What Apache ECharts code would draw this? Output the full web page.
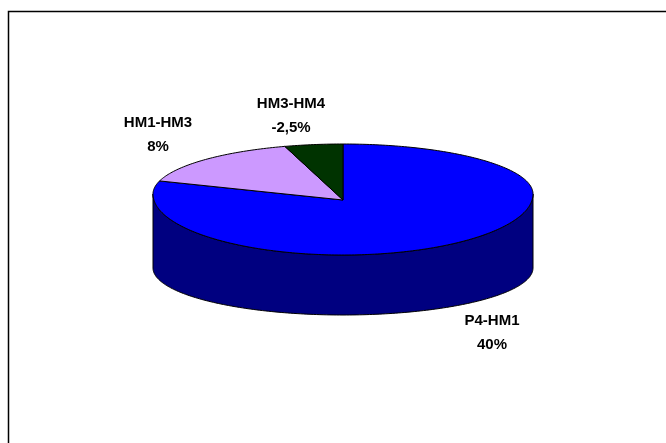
<!DOCTYPE html>
<html>
<head>
<meta charset="utf-8">
<script src="https://cdn.jsdelivr.net/npm/echarts@6/dist/echarts.min.js"></script>
<style>
  html, body { margin: 0; padding: 0; background: #fff; }
  #main { width: 666px; height: 443px; }
</style>
</head>
<body>
<div id="main"></div>
<script>
// data
var categories = ['P4-HM1', 'HM1-HM3', 'HM3-HM4'];
var values = [40, 8, -2.5];

// look
var topColors = ['#0000FF', '#CC99FF', '#003300'];
var sideColors = ['#000080', '#7f5fa0', '#001a00'];
var labelPos = [[492, 333], [158, 135], [291, 116]];

// 3d pie geometry (perspective: back half flatter than front)
var cx = 343, rx = 190;
var apexY = 200;
var topCy = 194, topBack = 50, topFront = 61;
var botCy = 268, botFront = 47;

var total = values.reduce(function (s, v) { return s + Math.abs(v); }, 0);
var starts = [];
var acc = 0;
values.forEach(function (v) {
  starts.push(acc / total * 360);
  acc += Math.abs(v);
});

// angle in degrees, clockwise from 12 o'clock
function pt(deg, cy, back, front) {
  var a = deg * Math.PI / 180;
  var c = Math.cos(a);
  return [cx + rx * Math.sin(a), cy - (c > 0 ? back : front) * c];
}
function arc(a1, a2, cy, back, front) {
  var pts = [];
  var n = Math.max(2, Math.ceil(Math.abs(a2 - a1)));
  for (var i = 0; i <= n; i++) {
    pts.push(pt(a1 + (a2 - a1) * i / n, cy, back, front));
  }
  return pts;
}
function pctText(v) {
  return String(v).replace('.', ',') + '%';
}

var chart = echarts.init(document.getElementById('main'));
chart.setOption({
  backgroundColor: '#fff',
  animation: false,
  graphic: [{
    type: 'rect',
    shape: { x: 8.5, y: 11.5, width: 700, height: 500 },
    style: { fill: 'none', stroke: '#000', lineWidth: 1.5 },
    z: 100
  }],
  series: [{
    type: 'custom',
    coordinateSystem: 'none',
    data: values.map(function (v, i) { return { name: categories[i], value: [v] }; }),
    renderItem: function (params, api) {
      var i = params.dataIndex;
      var v = api.value(0);
      var a1 = starts[i];
      var a2 = a1 + Math.abs(v) / total * 360;
      var children = [];
      // visible front wall
      var s1 = Math.max(a1, 90), s2 = Math.min(a2, 270);
      if (s2 > s1) {
        var front = arc(s1, s2, topCy, topBack, topFront);
        var back = arc(s2, s1, botCy, botFront, botFront);
        children.push({
          type: 'polygon',
          shape: { points: front.concat(back) },
          style: { fill: sideColors[i], stroke: '#000', lineWidth: 1 }
        });
      }
      var top = [[cx, apexY]].concat(arc(a1, a2, topCy, topBack, topFront));
      children.push({
        type: 'polygon',
        shape: { points: top },
        style: { fill: topColors[i], stroke: '#000', lineWidth: 1 }
      });
      children.push({
        type: 'text',
        style: {
          text: categories[i] + '\n' + pctText(v),
          x: labelPos[i][0],
          y: labelPos[i][1],
          align: 'center',
          verticalAlign: 'middle',
          font: 'bold 15px "Liberation Sans", Arial, sans-serif',
          fill: '#000',
          lineHeight: 24
        }
      });
      return { type: 'group', children: children };
    }
  }]
});
</script>
</body>
</html>
